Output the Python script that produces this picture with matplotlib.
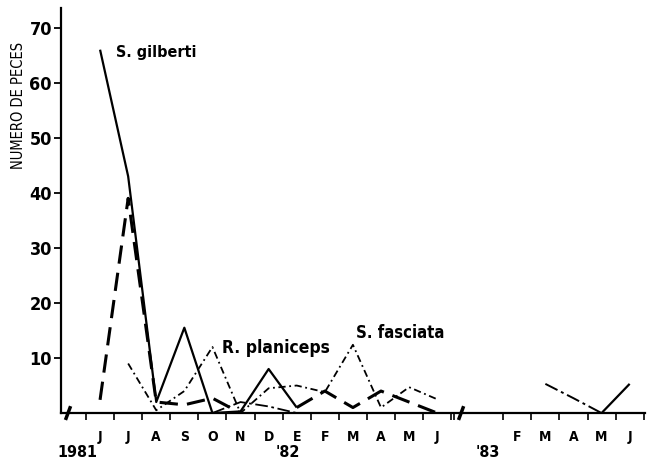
import numpy as np
import matplotlib.pyplot as plt
from matplotlib.ticker import FixedLocator, NullFormatter

plt.rcParams["font.family"] = ["DejaVu Sans"]
plt.rcParams["font.stretch"] = "condensed"
plt.rcParams["font.weight"] = "bold"

nan = np.nan

# Monthly samples, June 1981 - June 1982
months_81 = ["J", "J", "A", "S", "O", "N", "D", "E", "F", "M", "A", "M", "J"]
gilberti = [66, 43, 2, 15.5, 0, 0.3, 8, 1, nan, nan, nan, nan, nan]
planiceps = [2.4, 39, 2, 1.5, 2.7, 0, nan, 1, 4, 1, 4, 2, 0]
fasciata = [nan, 9, 0.5, 4, 12, 0, 4.5, 5, 3.8, 12.4, 1, 4.7, 2.5]
other = [nan, nan, nan, nan, 0, 2, 1.2, 0, nan, nan, nan, nan, nan]

# February - June 1983
months_83 = ["F", "M", "A", "M", "J"]
other_83 = [nan, 5.3, 2.7, 0, nan]
gilberti_83 = [nan, nan, nan, 0, 5.3]

# x positions: one unit per month, axis broken between '82 and '83
x81 = np.arange(len(months_81))
x83 = 14.85 + np.arange(len(months_83))

fig = plt.figure(figsize=(6.49, 4.61), dpi=100)
ax = fig.add_axes([0.094, 0.104, 0.9, 0.879])

k = dict(color="black", solid_capstyle="butt")
ax.plot(x81, gilberti, lw=1.6, **k)
ax.plot(x81, planiceps, lw=2.2, dashes=(6, 3), **k)
ax.plot(x81, fasciata, lw=1.3, dashes=(4, 2, 1, 2), **k)
ax.plot(x81, other, lw=1.3, dashes=(7, 2, 1.5, 2), **k)
ax.plot(x83, other_83, lw=1.4, dashes=(7, 2, 1.5, 2), **k)
ax.plot(x83, gilberti_83, lw=1.6, **k)

ax.set_xlim(-1.39, 19.4)
ax.set_ylim(0, 73.6)

for side in ("top", "right"):
    ax.spines[side].set_visible(False)
for side in ("left", "bottom"):
    ax.spines[side].set_linewidth(1.6)

# y axis
ax.set_yticks([10, 20, 30, 40, 50, 60, 70])
ax.tick_params(axis="y", length=5, width=1.3, direction="out", pad=1.5,
               labelsize=13)

# x axis: month labels at centres, tick marks at month boundaries
xpos = np.concatenate([x81, x83])
ax.set_xticks(xpos)
ax.set_xticklabels(months_81 + months_83)
ax.tick_params(axis="x", which="major", length=0, pad=12, labelsize=10)
bounds = np.concatenate([np.arange(-0.5, 13.0, 1.0), [12.6], x83 - 0.5,
                         [x83[-1] + 0.5]])
ax.xaxis.set_minor_locator(FixedLocator(bounds))
ax.xaxis.set_minor_formatter(NullFormatter())
ax.tick_params(axis="x", which="minor", length=5, width=1.2, direction="out")

# year labels
tr = ax.get_xaxis_transform()
for xv, txt in [(-0.8, "1981"), (6.7, "'82"), (13.8, "'83")]:
    ax.text(xv, -0.097, txt, transform=tr, ha="center", va="center",
            fontsize=11.5, fontweight="bold")

# axis break marks
for xb in (-1.14, 12.85):
    ax.plot([xb - 0.07, xb + 0.07], [-0.013, 0.013], transform=tr,
            color="black", lw=2.5, clip_on=False)

# species labels
ax.text(0.55, 65.5, "S. gilberti", fontsize=11.5, fontweight="bold",
        va="center")
ax.text(4.35, 11.8, "R. planiceps", fontsize=12.5, fontweight="bold",
        va="center")
ax.text(9.1, 14.5, "S. fasciata", fontsize=12, fontweight="bold",
        va="center")

fig.text(0.028, 0.772, "NUMERO DE PECES", rotation=90, ha="center",
         va="center", fontsize=10.5, fontweight="medium")

fig.savefig("out.png", dpi=100)
